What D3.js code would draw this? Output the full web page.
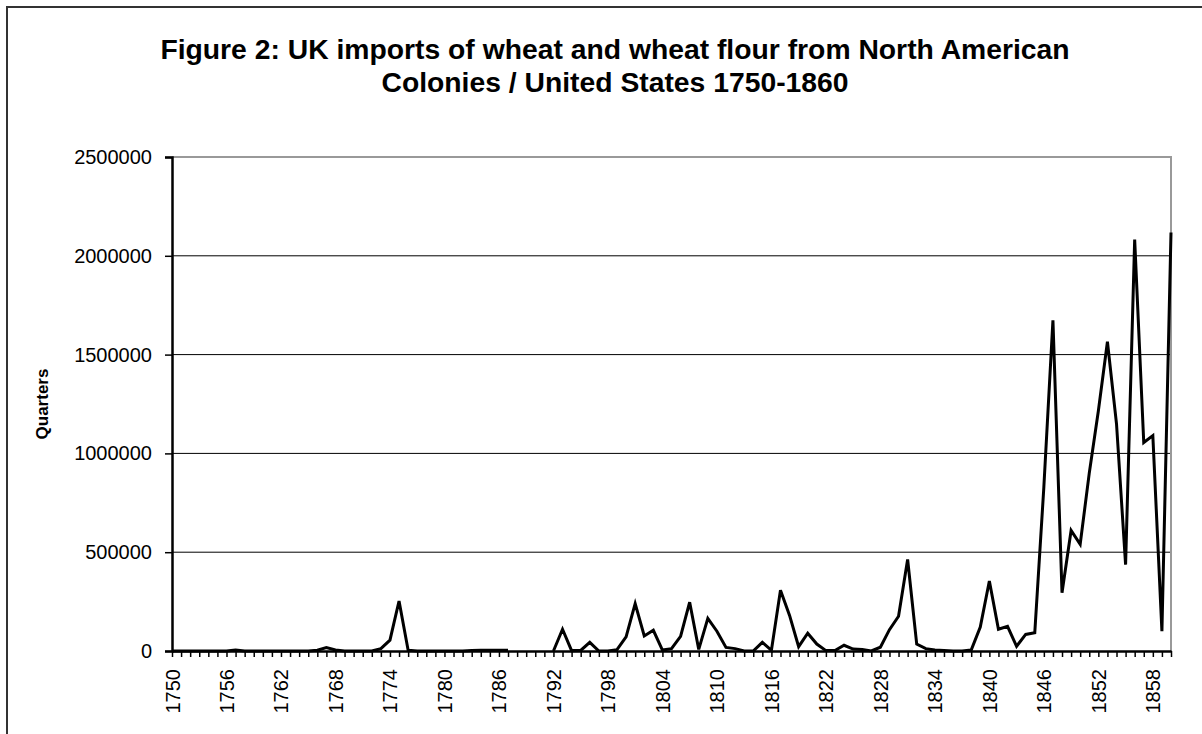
<!DOCTYPE html>
<html>
<head>
<meta charset="utf-8">
<script src="https://cdn.jsdelivr.net/npm/d3@7"></script>
<style>
  body { margin: 0; background: #fff; }
  svg { display: block; font-family: "Liberation Sans", Arial, sans-serif; }
</style>
</head>
<body>
<svg id="chart" width="1202" height="734"></svg>
<script>
// years 1750-1860, one value per year (null = no record)
const years = d3.range(1750, 1861);
const quarters = [
  0, 0, 0, 0, 0, 0, 0, 5000, 0, 0,                 // 1750-1759
  0, 0, 0, 0, 0, 0, 4000, 17000, 5000, 0,          // 1760-1769
  0, 0, 0, 12000, 55000, 253000, 4000, 0, 0, 0,    // 1770-1779
  0, 0, 0, 3000, 4000, 4000, 4000, 4000, null, null, // 1780-1789
  null, null, 0, 110000, 2000, 3000, 44000, 0, 0, 7000, // 1790-1799
  72000, 240000, 76000, 105000, 5000, 12000, 74000, 247000, 8000, 165000, // 1800-1809
  100000, 18000, 12000, 0, 0, 44000, 3000, 307000, 180000, 22000, // 1810-1819
  90000, 35000, 2000, 2000, 29000, 10000, 8000, 0, 19000, 108000, // 1820-1829
  176000, 463000, 35000, 12000, 5000, 2000, 0, 0, 5000, 121000,   // 1830-1839
  354000, 110000, 125000, 24000, 84000, 92000, 830000, 1673000, 295000, 610000, // 1840-1849
  540000, 900000, 1215000, 1565000, 1150000, 437000, 2082000, 1055000, 1090000, 100000, // 1850-1859
  2118000 // 1860
];
const yTicks = [0, 500000, 1000000, 1500000, 2000000, 2500000];
const xLabelYears = d3.range(1750, 1861, 6);
const titleLines = [
  "Figure 2: UK imports of wheat and wheat flour from North American",
  "Colonies / United States 1750-1860"
];
const yTitle = "Quarters";

const svg = d3.select("#chart");
const plot = { left: 172, right: 1171, top: 157, bottom: 651 };

// outer chart frame
svg.append("rect")
  .attr("x", 7).attr("y", 7)
  .attr("width", 1300).attr("height", 900)
  .attr("fill", "#fff")
  .attr("stroke", "#333")
  .attr("stroke-width", 2);

svg.selectAll("text.title")
  .data(titleLines)
  .enter()
  .append("text")
  .attr("class", "title")
  .attr("x", 615)
  .attr("y", (d, i) => 59 + i * 33)
  .attr("text-anchor", "middle")
  .attr("font-size", 28.3)
  .attr("font-weight", "bold")
  .text((d) => d);

const x = d3.scalePoint().domain(years).range([plot.left, plot.right]);
const y = d3.scaleLinear().domain([0, 2500000]).range([plot.bottom, plot.top]);

// gridlines
svg.append("g")
  .selectAll("line")
  .data(yTicks.filter((d) => d > 0 && d < 2500000))
  .enter()
  .append("line")
  .attr("x1", plot.left).attr("x2", plot.right)
  .attr("y1", (d) => y(d)).attr("y2", (d) => y(d))
  .attr("stroke", "#000")
  .attr("stroke-width", 1);

// plot area border (top, right)
svg.append("path")
  .attr("d", `M${plot.left},${plot.top}H${plot.right}V${plot.bottom}`)
  .attr("fill", "none")
  .attr("stroke", "#999")
  .attr("stroke-width", 2);

// y axis
const yAxis = svg.append("g")
  .attr("transform", `translate(${plot.left},0)`)
  .call(d3.axisLeft(y).tickValues(yTicks).tickSize(7).tickPadding(13).tickFormat(d3.format("d")));
yAxis.select(".domain").attr("stroke", "#000").attr("stroke-width", 2.5);
yAxis.selectAll(".tick line").attr("stroke", "#000").attr("stroke-width", 1.5);
yAxis.selectAll(".tick text")
  .attr("font-size", 20)
  .attr("font-family", "Liberation Sans, Arial, sans-serif")
  .attr("fill", "#000");

// x axis
const xAxis = svg.append("g")
  .attr("transform", `translate(0,${plot.bottom})`)
  .call(
    d3.axisBottom(x)
      .tickSize(6)
      .tickSizeOuter(0)
      .tickFormat((d) => (xLabelYears.includes(d) ? d : ""))
  );
xAxis.select(".domain").attr("stroke", "#000").attr("stroke-width", 2.5);
xAxis.selectAll(".tick line").attr("stroke", "#000").attr("stroke-width", 1.5);
xAxis.selectAll(".tick text")
  .attr("font-size", 20)
  .attr("font-family", "Liberation Sans, Arial, sans-serif")
  .attr("fill", "#000")
  .attr("transform", "rotate(-90)")
  .attr("text-anchor", "end")
  .attr("x", -18)
  .attr("y", 0)
  .attr("dy", "0.35em");

// y axis title
svg.append("text")
  .attr("transform", `translate(48,${(plot.top + plot.bottom) / 2}) rotate(-90)`)
  .attr("text-anchor", "middle")
  .attr("font-size", 17)
  .attr("font-weight", "bold")
  .text(yTitle);

// data line
const line = d3.line()
  .defined((d) => d[1] != null)
  .x((d) => x(d[0]))
  .y((d) => y(d[1]));

svg.append("path")
  .datum(years.map((yr, i) => [yr, quarters[i]]))
  .attr("d", line)
  .attr("fill", "none")
  .attr("stroke", "#000")
  .attr("stroke-width", 3)
  .attr("stroke-linejoin", "miter");
</script>
</body>
</html>
